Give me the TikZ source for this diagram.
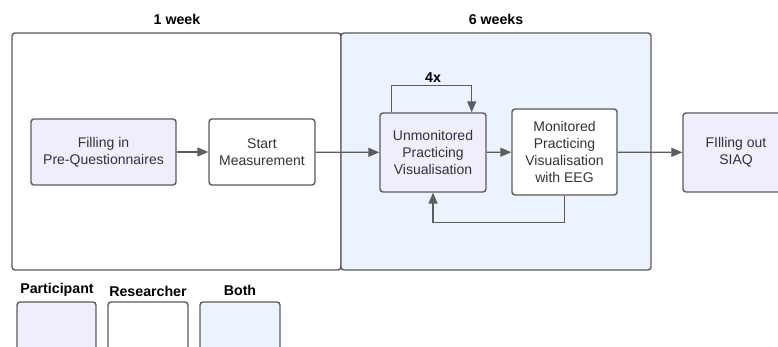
\documentclass[tikz,border=0pt]{standalone}
\usepackage{fontspec}
\setmainfont{Liberation Sans}
\usepackage{xcolor}
\usepackage{tikz}
\usetikzlibrary{positioning, arrows.meta, calc}
\definecolor{partfill}{HTML}{EEEEFC}
\definecolor{bothfill}{HTML}{EBF3FE}
\definecolor{edgegray}{HTML}{5C5C5C}
\definecolor{textgray}{HTML}{333333}

\tikzset{
  stepbox/.style={draw=edgegray, line width=1.4pt, rounded corners=3pt,
    align=center, text=textgray, font=\fontsize{14}{17.2}\selectfont},
  phasebox/.style={draw=edgegray, line width=1.4pt, rounded corners=3pt},
  flow/.style={draw=edgegray, line width=1.2pt,
    -{Triangle[length=11pt, width=9pt]}},
  heading/.style={font=\bfseries\fontsize{14.2}{17.2}\selectfont, text=black}
}

\begin{document}
\begin{tikzpicture}[x=1pt, y=-1pt]
    \clip (0,0) rectangle (778,347);
    \fill[white] (0,0) rectangle (778,347);

    \draw[phasebox, fill=white] (12,33) rectangle (341,270);
    \draw[phasebox, fill=bothfill] (341,33) rectangle (651,270);
    \node[heading] (week1) at (177,19) {1 week};
    \node[heading] (week6) at (496,19) {6 weeks};

    \node[stepbox, fill=partfill, minimum width=145pt, minimum height=66pt]
      (prequest) at (103.5,152) {Filling in\\Pre-Questionnaires};
    \node[stepbox, fill=white, minimum width=106pt, minimum height=66pt]
      (startmeas) at (262,152) {Start\\Measurement};
    \node[stepbox, fill=partfill, minimum width=106pt, minimum height=79pt]
      (unmon) at (433,152.5) {Unmonitored\\Practicing\\Visualisation};
    \node[stepbox, fill=white, minimum width=105pt, minimum height=86pt]
      (mon) at (564.5,152) {Monitored\\Practicing\\Visualisation\\with EEG};
    \node[stepbox, fill=partfill, minimum width=106pt, minimum height=79pt]
      (siaq) at (736,152.5) {FIlling out\\SIAQ};

    \draw[flow] (prequest) -- (startmeas);
    \draw[flow] (startmeas) -- (unmon);
    \draw[flow] (unmon) -- (mon);
    \draw[flow] (mon) -- (siaq);
    \draw[flow] ([xshift=12pt]unmon.north west) -- ++(0,-27)
      -| ([xshift=-15pt]unmon.north east);
    \node[heading] (reps) at (433,78) {4x};
    \draw[flow] (mon.south) -- ++(0,27) -| (unmon.south);

    % legend
    \node[heading] (partlabel) at (57,290) {Participant};
    \node[heading] (reslabel) at (148,291) {Researcher};
    \node[heading] (bothlabel) at (240,290) {Both};
    \draw[phasebox, fill=partfill] (17,302) rectangle (96,365);
    \draw[phasebox, fill=white] (108,302) rectangle (188,365);
    \draw[phasebox, fill=bothfill] (200,302) rectangle (280,365);
  \end{tikzpicture}
\end{document}
